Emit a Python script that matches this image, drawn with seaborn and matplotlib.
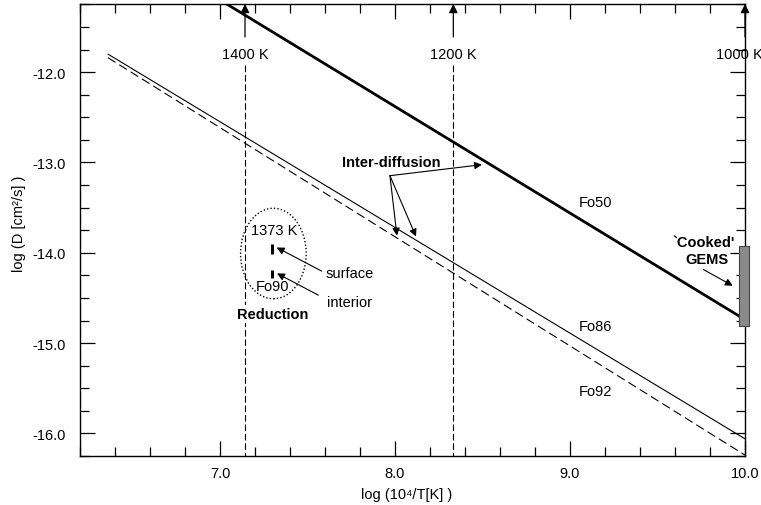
import matplotlib
matplotlib.use("Agg")
import numpy as np
import pandas as pd
import matplotlib.pyplot as plt
import seaborn as sns
from matplotlib.patches import Ellipse, Rectangle
from matplotlib.ticker import MultipleLocator, FormatStrFormatter

# ---- data -------------------------------------------------------------
# Fe-Mg inter-diffusion in olivine, log D vs 10^4/T
fo50_x = [7.0, 10.0]
fo50_y = [-11.20, -14.74]
fo86_x = [6.36, 10.0]
fo86_y = [-11.80, -16.06]
fo92_x = [6.36, 10.0]
fo92_y = [-11.84, -16.24]

# reference temperatures marked along the top
temps_K = [1400, 1200, 1000]
temp_labels = ["1400 K", "1200 K", "1000 K"]

# reduction experiment at 1373 K (Fo90)
red_x = 1e4 / 1370.0
surface_y = [-13.90, -14.01]
interior_y = [-14.19, -14.28]

# range of "cooked" GEMS at 1000 K
gems_y = [-13.93, -14.81]

x_major = [7.0, 8.0, 9.0, 10.0]
y_major = [-16.0, -15.0, -14.0, -13.0, -12.0]
xlim = (6.2, 10.0)
ylim = (-16.25, -11.245)

# ---- style ------------------------------------------------------------
sns.set_theme(style="ticks")
plt.rcParams['font.family'] = ['Liberation Sans', 'DejaVu Sans']
plt.rcParams['axes.unicode_minus'] = False
plt.rcParams['text.color'] = 'black'
plt.rcParams['axes.labelcolor'] = 'black'
plt.rcParams['xtick.color'] = 'black'
plt.rcParams['ytick.color'] = 'black'
FS = 10.5

fig = plt.figure(figsize=(7.61, 5.06), dpi=100)
ax = fig.add_axes([80 / 761, 49 / 506, 665 / 761, 452 / 506])

lines = pd.DataFrame({
    "x": fo50_x + fo86_x + fo92_x,
    "y": fo50_y + fo86_y + fo92_y,
    "series": ["Fo50"] * 2 + ["Fo86"] * 2 + ["Fo92"] * 2,
})
sub = lines[lines.series == "Fo50"]
sns.lineplot(data=sub, x="x", y="y", ax=ax, color="black", lw=2.0, zorder=4)
sub = lines[lines.series == "Fo86"]
sns.lineplot(data=sub, x="x", y="y", ax=ax, color="black", lw=0.8, zorder=4)
sub = lines[lines.series == "Fo92"]
sns.lineplot(data=sub, x="x", y="y", ax=ax, color="black", lw=0.8,
             linestyle=(0, (8, 4)), zorder=4)

ax.set_xlim(*xlim)
ax.set_ylim(*ylim)

# temperature markers: arrow at top, dashed guide below the label
y_lab = -11.80
y_arrow_start = -11.61
y_dash_top = -11.92
for T, lab in zip(temps_K, temp_labels):
    xv = 1e4 / T
    ax.annotate("", xy=(xv, ylim[1]), xytext=(xv, y_arrow_start),
                arrowprops=dict(arrowstyle="-|>", color="black", lw=0.9,
                                mutation_scale=13, shrinkA=0, shrinkB=0),
                annotation_clip=False, zorder=6)
    xt = xv if T != 1000 else xv - 0.034
    ax.text(xt, y_lab, lab, ha="center", va="center", fontsize=FS)
    if T != 1000:
        ax.plot([xv, xv], [y_dash_top, ylim[0]], color="black", lw=0.8,
                linestyle=(0, (6, 2.5)), zorder=2)

# labels for diffusion curves
ax.text(9.143, -13.433, "Fo50", ha="center", va="center", fontsize=FS)
ax.text(9.143, -14.814, "Fo86", ha="center", va="center", fontsize=FS)
ax.text(9.143, -15.525, "Fo92", ha="center", va="center", fontsize=FS)

# inter-diffusion callouts
ax.text(7.981, -12.994, "Inter-diffusion", ha="center", va="center",
        fontsize=FS, fontweight="bold")
arrow_kw = dict(arrowstyle="-|>", color="black", lw=0.8, mutation_scale=11,
                shrinkA=0, shrinkB=0)
for tip in [(8.497, -13.024), (8.011, -13.809), (8.12, -13.82)]:
    ax.annotate("", xy=tip, xytext=(7.971, -13.146), arrowprops=arrow_kw)

# reduction experiment
ax.add_patch(Ellipse((7.305, -14.008), width=0.375, height=1.002, fill=False,
                     edgecolor="black", lw=1.0, linestyle=(0, (1, 1.5)),
                     zorder=5))
ax.vlines([red_x], [surface_y[0]], [surface_y[1]], color="black", lw=2.2, zorder=5)
ax.vlines([red_x], [interior_y[0]], [interior_y[1]], color="black", lw=2.2, zorder=5)
ax.text(7.310, -13.750, "1373 K", ha="center", va="center", fontsize=FS)
ax.text(7.299, -14.367, "Fo90", ha="center", va="center", fontsize=FS)
ax.text(7.30, -14.68, "Reduction", ha="center", va="center", fontsize=FS,
        fontweight="bold", zorder=6,
        bbox=dict(facecolor="white", edgecolor="none", pad=1.5))
ax.annotate("", xy=(7.324, -13.941), xytext=(7.581, -14.203), arrowprops=arrow_kw)
ax.annotate("", xy=(7.326, -14.228), xytext=(7.562, -14.469), arrowprops=arrow_kw)
ax.text(7.604, -14.221, "surface", ha="left", va="center", fontsize=FS)
ax.text(7.613, -14.549, "interior", ha="left", va="center", fontsize=FS)

# cooked GEMS range
ax.add_patch(Rectangle((9.966, gems_y[1]), 0.059, gems_y[0] - gems_y[1],
                       facecolor="#8a8a8a", edgecolor="#444444", lw=0.8,
                       clip_on=False, zorder=5))
ax.text(9.766, -13.875, "`Cooked'", ha="center", va="center", fontsize=FS,
        fontweight="bold")
ax.text(9.783, -14.074, "GEMS", ha="center", va="center", fontsize=FS,
        fontweight="bold")
ax.annotate("", xy=(9.930, -14.365), xytext=(9.762, -14.185), arrowprops=arrow_kw)

# ---- axes -------------------------------------------------------------
ax.set_xticks(x_major)
ax.set_yticks(y_major)
ax.xaxis.set_minor_locator(MultipleLocator(0.2))
ax.yaxis.set_minor_locator(MultipleLocator(0.25))
ax.xaxis.set_major_formatter(FormatStrFormatter("%.1f"))
ax.yaxis.set_major_formatter(FormatStrFormatter("%.1f"))
ax.tick_params(which="both", direction="in", top=True, right=True,
               color="black", width=0.9, labelsize=FS, labelcolor="black")
ax.tick_params(which="major", length=10.5)
ax.tick_params(which="minor", length=6.5)
ax.tick_params(axis="y", which="major", pad=10)
ax.tick_params(axis="x", which="major", pad=7)
for s in ax.spines.values():
    s.set_color("black")
    s.set_linewidth(1.0)

ax.set_xlabel("log (10⁴/T[K] )", fontsize=FS, va="center")
ax.xaxis.set_label_coords(0.4917, -0.084)
ax.set_ylabel("log (D [cm²/s] )", fontsize=FS, va="center")
ax.yaxis.set_label_coords(-0.0917, 0.5155)

fig.savefig("out.png", dpi=100)
